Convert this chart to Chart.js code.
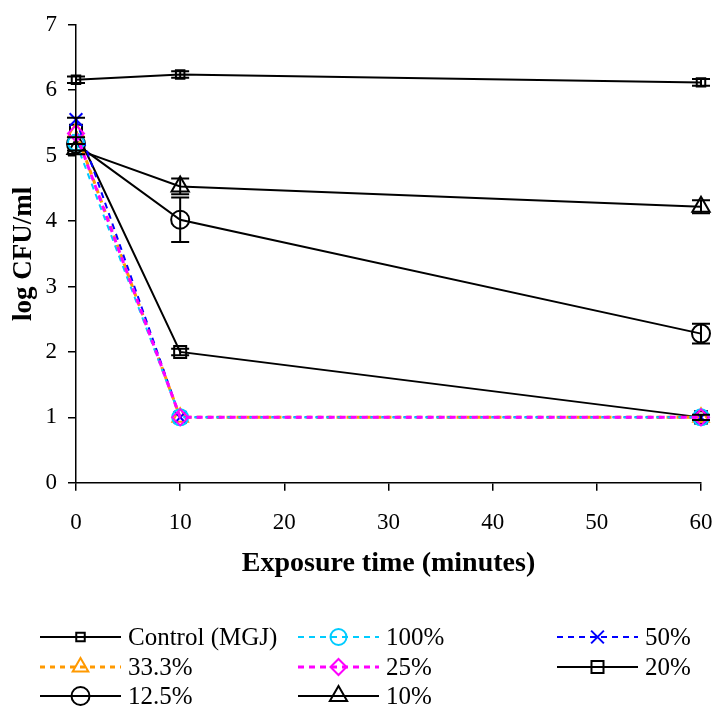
<!DOCTYPE html>
<html>
<head>
<meta charset="utf-8">
<script src="https://cdn.jsdelivr.net/npm/chart.js@4.4.1/dist/chart.umd.min.js"></script>
<style>
  html, body { margin: 0; padding: 0; background: #fff; }
  #wrap { width: 715px; height: 706px; }
</style>
</head>
<body>
<div id="wrap"><canvas id="cfuChart"></canvas></div>
<script>
// Exposure times (minutes)
const times = [0, 10, 60];

// log CFU/ml per treatment
const control = [6.16, 6.24, 6.12];
const pct100 = [5.20, 1.0, 1.0];
const pct50 = [5.55, 1.0, 1.0];
const pct333 = [5.36, 1.0, 1.0];
const pct25 = [5.34, 1.0, 1.0];
const pct20 = [5.38, 2.0, 1.0];
const pct125 = [5.18, 4.02, 2.28];
const pct10 = [5.10, 4.53, 4.22];

// error bars (+/-)
const controlErr = [0.05, 0.05, 0.05];
const pct20Err = [0.2, 0.05, 0.04];
const pct125Err = [0.1, 0.34, 0.15];
const pct10Err = [0.08, 0.12, 0.1];

const seriesLabels = ['Control (MGJ)', '100%', '50%', '33.3%', '25%', '20%', '12.5%', '10%'];
const yTicks = [0, 1, 2, 3, 4, 5, 6, 7];

const serif = '"Liberation Serif", "Times New Roman", serif';
Chart.defaults.font.family = serif;
Chart.defaults.color = '#000';

function pts(vals) {
    return vals.map((v, i) => ({ x: times[i], y: v }));
}

const styles = [
    { color: '#000', dash: [], style: 'rect', r: 6, w: 2, err: controlErr },
    { color: '#00ccff', dash: [6, 5], style: 'circle', r: 8, w: 2 },
    { color: '#0000ff', dash: [6, 5], style: 'crossRot', r: 9, w: 2 },
    { color: '#ff9900', dash: [5, 5], style: 'triangle', r: 9, w: 3 },
    { color: '#ff00ff', dash: [6, 5], style: 'rectRot', r: 8, w: 3, order: -1 },
    { color: '#000', dash: [], style: 'rect', r: 8.5, w: 2, err: pct20Err },
    { color: '#000', dash: [], style: 'circle', r: 9, w: 2, err: pct125Err },
    { color: '#000', dash: [], style: 'triangle', r: 10, w: 2, err: pct10Err }
];
const allValues = [control, pct100, pct50, pct333, pct25, pct20, pct125, pct10];

const datasets = allValues.map((vals, i) => ({
    label: seriesLabels[i],
    data: pts(vals),
    borderColor: styles[i].color,
    backgroundColor: 'transparent',
    borderWidth: styles[i].w,
    borderDash: styles[i].dash,
    pointStyle: styles[i].style,
    pointRadius: styles[i].r,
    pointBorderColor: styles[i].color,
    pointBackgroundColor: 'transparent',
    pointBorderWidth: 2,
    tension: 0,
    clip: false,
    order: styles[i].order || 0,
    errors: styles[i].err || null
}));

// error bars via the chart's own scales
const errorBars = {
    id: 'errorBars',
    afterDatasetsDraw(chart) {
        const ctx = chart.ctx;
        const xs = chart.scales.x, ys = chart.scales.y;
        ctx.save();
        ctx.strokeStyle = '#000';
        ctx.lineWidth = 2;
        chart.data.datasets.forEach(ds => {
            if (!ds.errors) return;
            ds.data.forEach((p, i) => {
                const px = xs.getPixelForValue(p.x);
                const top = ys.getPixelForValue(p.y + ds.errors[i]);
                const bot = ys.getPixelForValue(p.y - ds.errors[i]);
                ctx.beginPath();
                ctx.moveTo(px, top); ctx.lineTo(px, bot);
                ctx.moveTo(px - 9, top); ctx.lineTo(px + 9, top);
                ctx.moveTo(px - 9, bot); ctx.lineTo(px + 9, bot);
                ctx.stroke();
            });
        });
        ctx.restore();
    }
};

// legend in three columns under the x axis title
const gridLegend = {
    id: 'gridLegend',
    afterDraw(chart) {
        const ctx = chart.ctx;
        const colX = [40, 298, 557];
        const rowY = [637, 667, 696];
        ctx.save();
        ctx.font = '25px ' + serif;
        ctx.textBaseline = 'middle';
        chart.data.datasets.forEach((ds, i) => {
            const x0 = colX[i % 3], y = rowY[Math.floor(i / 3)];
            ctx.strokeStyle = ds.borderColor;
            ctx.lineWidth = ds.borderWidth;
            ctx.setLineDash(ds.borderDash);
            ctx.beginPath();
            ctx.moveTo(x0, y); ctx.lineTo(x0 + 81, y);
            ctx.stroke();
            ctx.setLineDash([]);
            ctx.lineWidth = 2;
            ctx.fillStyle = 'rgba(0,0,0,0)';
            Chart.helpers.drawPoint(ctx, {
                pointStyle: ds.pointStyle,
                radius: ds.pointRadius,
                borderWidth: 2,
                rotation: 0
            }, x0 + 40.5, y);
            ctx.fillStyle = '#000';
            ctx.fillText(ds.label, x0 + 88, y + 1);
        });
        ctx.restore();
    }
};

new Chart(document.getElementById('cfuChart').getContext('2d'), {
    type: 'line',
    data: { datasets: datasets },
    options: {
        responsive: true,
        maintainAspectRatio: false,
        animation: false,
        layout: { padding: { left: 0, right: 14, top: 10, bottom: 132 } },
        plugins: {
            legend: { display: false },
            tooltip: { enabled: false }
        },
        scales: {
            x: {
                type: 'linear',
                min: 0,
                max: 60,
                afterFit(axis) { axis.paddingRight = 0; axis.paddingLeft = 0; },
                ticks: { stepSize: 10, font: { size: 23 }, color: '#000', padding: 18 },
                grid: { drawOnChartArea: false, drawTicks: true, tickLength: 8, color: '#000', lineWidth: 1.5 },
                border: { color: '#000', width: 1.5 },
                title: {
                    display: true,
                    text: 'Exposure time (minutes)',
                    font: { size: 28, weight: 'bold', lineHeight: 0.7 },
                    color: '#000',
                    padding: { top: 0, bottom: 0 }
                }
            },
            y: {
                min: 0,
                max: 7,
                afterBuildTicks(axis) { axis.ticks = yTicks.map(v => ({ value: v })); },
                afterFit(axis) { axis.width = 76; },
                ticks: { font: { size: 23 }, color: '#000', padding: 11 },
                grid: { drawOnChartArea: false, drawTicks: true, tickLength: 8, color: '#000', lineWidth: 1.5 },
                border: { color: '#000', width: 1.5 },
                title: {
                    display: true,
                    text: 'log CFU/ml',
                    font: { size: 27, weight: 'bold' },
                    color: '#000',
                    padding: { top: 8, bottom: 0 }
                }
            }
        }
    },
    plugins: [errorBars, gridLegend]
});
</script>
</body>
</html>
